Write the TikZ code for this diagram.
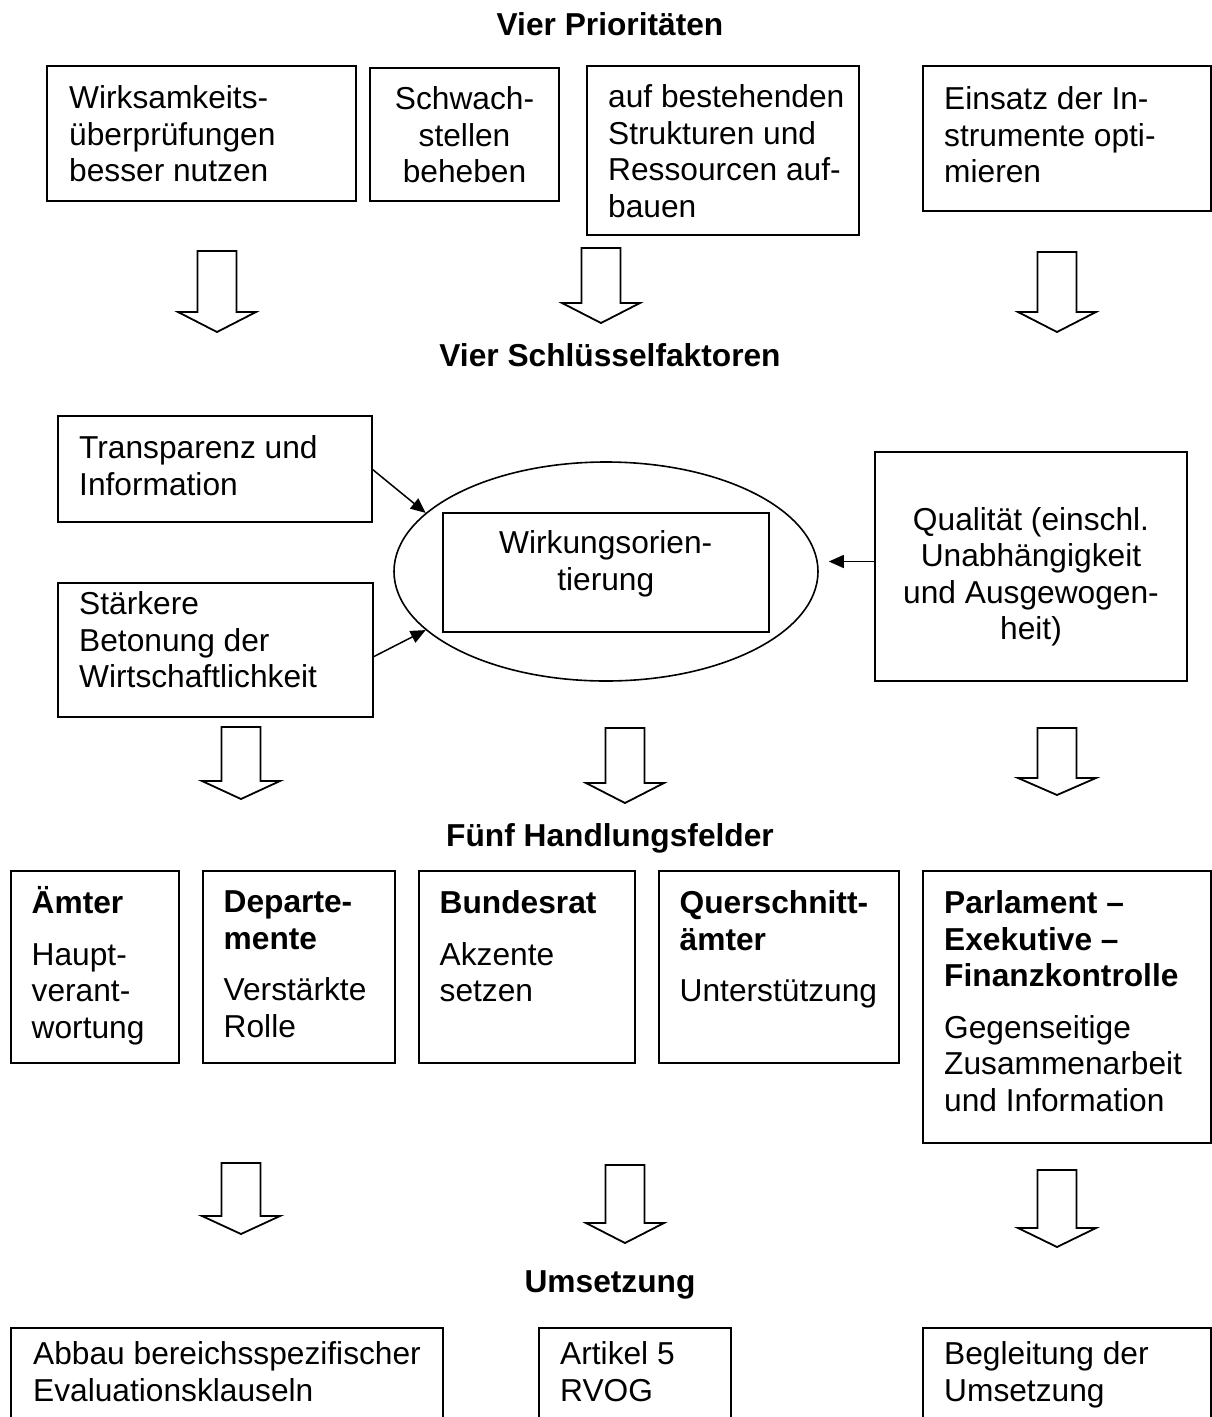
\documentclass[tikz,border=0pt]{standalone}
\usepackage{fontspec}
\setmainfont{Liberation Sans}
\usetikzlibrary{shapes.geometric,arrows.meta}
\def\diafont{\fontsize{31.7}{36.5}\selectfont}
\def\shaft{19.5}
\def\head{39}
\newcommand{\blockdown}[4]{%
  \draw[blockpfeil] (#1-\shaft,#2) -- (#1+\shaft,#2) -- (#1+\shaft,#3) -- (#1+\head,#3)
    -- (#1,#4) -- (#1-\head,#3) -- (#1-\shaft,#3) -- cycle;}
\tikzset{
  box/.style={draw, line width=2pt, inner sep=0pt, outer sep=0pt, anchor=north west},
  txt/.style={font=\diafont, align=left, inner sep=0pt, anchor=north west, execute at begin node=\strut},
  ctxt/.style={font=\diafont, align=center, inner sep=0pt, anchor=north, execute at begin node=\strut},
  titel/.style={font=\diafont\bfseries, inner sep=0pt, anchor=base},
  pfeil/.style={line width=1.5pt, -{Triangle[length=15pt,width=13pt]}},
  blockpfeil/.style={line width=1.8pt, fill=white, line join=miter},
}

\begin{document}
\begin{tikzpicture}[x=1pt,y=-1pt]
    \useasboundingbox (0,0) rectangle (1212,1417);
    \clip (0,0) rectangle (1212,1417);

    \node[titel] (prio) at (610,35) {Vier Prioritäten};
    \node[box, minimum width=309pt, minimum height=135pt] (p1) at (47,66) {};
    \node[box, minimum width=189pt, minimum height=133pt] (p2) at (370,68) {};
    \node[box, minimum width=272pt, minimum height=169pt] (p3) at (587,66) {};
    \node[box, minimum width=288pt, minimum height=145pt] (p4) at (923,66) {};
    \node[txt] (p1t) at ([shift={(22pt,-19.5pt)}]p1.north west) {Wirksamkeits-\\überprüfungen\\besser nutzen};
    \node[ctxt] (p2t) at ([shift={(0pt,-18.5pt)}]p2.north) {Schwach-\\stellen\\beheben};
    \node[txt] (p3t) at ([shift={(21pt,-18.5pt)}]p3.north west) {auf bestehenden\\Strukturen und\\Ressourcen auf-\\bauen};
    \node[txt] (p4t) at ([shift={(21pt,-20.5pt)}]p4.north west) {Einsatz der In-\\strumente opti-\\mieren};

    \blockdown{217}{251}{312}{332}
    \blockdown{601}{248}{303}{323}
    \blockdown{1057}{252}{312}{332}

    \node[titel] (schluessel) at (610,366) {Vier Schlüsselfaktoren};
    \node[box, minimum width=314pt, minimum height=106pt] (b1) at (58,416) {};
    \node[box, minimum width=315pt, minimum height=134pt] (b2) at (58,583) {};
    \node[box, minimum width=312pt, minimum height=229pt] (b3) at (875,452) {};
    \node[draw, ellipse, line width=1.6pt, inner sep=0pt, minimum width=424pt, minimum height=219pt] (wirk) at (606,571.5) {};
    \node[box, minimum width=326.5pt, minimum height=119pt] (wirkbox) at (442.5,513) {};
    \node[txt] (b1t) at ([shift={(21pt,-19.5pt)}]b1.north west) {Transparenz und\\Information};
    \node[txt] (b2t) at ([shift={(21pt,-8.5pt)}]b2.north west) {Stärkere\\Betonung der\\Wirtschaftlichkeit};
    \node[ctxt] (b3t) at ([shift={(0pt,-55pt)}]b3.north) {Qualität (einschl.\\Unabhängigkeit\\und Ausgewogen-\\heit)};
    \node[ctxt] (wirkt) at ([shift={(0pt,-17.5pt)}]wirkbox.north) {Wirkungsorien-\\tierung};
    \draw[pfeil] (b1.east) -- (wirk.162);
    \draw[pfeil] ([yshift=-7pt]b2.east) -- (wirk.198);
    \draw[pfeil, shorten >=10pt] ([yshift=5pt]b3.west) -- ([yshift=5pt]b3.west -| wirk.east);

    \blockdown{241}{727}{781}{799}
    \blockdown{625}{728}{783}{803}
    \blockdown{1057}{728}{778}{795}

    \node[titel] (felder) at (610,846) {Fünf Handlungsfelder};
    \node[box, minimum width=168.5pt, minimum height=192pt] (c1) at (10.5,871) {};
    \node[box, minimum width=192.5pt, minimum height=192pt] (c2) at (202.5,871) {};
    \node[box, minimum width=216.5pt, minimum height=192pt] (c3) at (418.5,871) {};
    \node[box, minimum width=240.5pt, minimum height=192pt] (c4) at (658.5,871) {};
    \node[box, minimum width=288pt, minimum height=272pt] (c5) at (923,871) {};
    \node[txt] (c1t) at ([shift={(21pt,-15.5pt)}]c1.north west) {\textbf{Ämter}\\[15pt]Haupt-\\verant-\\wortung};
    \node[txt] (c2t) at ([shift={(21pt,-19.5pt)}]c2.north west) {\textbf{Departe-}\\\textbf{mente}\\[15pt]Verstärkte\\Rolle};
    \node[txt] (c3t) at ([shift={(21pt,-19.5pt)}]c3.north west) {\textbf{Bundesrat}\\[15pt]Akzente\\setzen};
    \node[txt] (c4t) at ([shift={(21pt,-19.5pt)}]c4.north west) {\textbf{Querschnitt-}\\\textbf{ämter}\\[15pt]Unterstützung};
    \node[txt] (c5t) at ([shift={(21pt,-19.5pt)}]c5.north west) {\textbf{Parlament –}\\\textbf{Exekutive –}\\\textbf{Finanzkontrolle}\\[15pt]Gegenseitige\\Zusammenarbeit\\und Information};

    \blockdown{241}{1163}{1216}{1234}
    \blockdown{625}{1165}{1223}{1243}
    \blockdown{1057}{1170}{1228}{1247}

    \node[titel] (umsetzung) at (610,1292) {Umsetzung};
    \node[box, minimum width=432pt, minimum height=120pt] (d1) at (11,1328) {};
    \node[box, minimum width=192pt, minimum height=120pt] (d2) at (539,1328) {};
    \node[box, minimum width=288pt, minimum height=120pt] (d3) at (923,1328) {};
    \node[txt] (d1t) at ([shift={(22pt,-13.5pt)}]d1.north west) {Abbau bereichsspezifischer\\Evaluationsklauseln};
    \node[txt] (d2t) at ([shift={(21pt,-13.5pt)}]d2.north west) {Artikel 5\\RVOG};
    \node[txt] (d3t) at ([shift={(21pt,-13.5pt)}]d3.north west) {Begleitung der\\Umsetzung};
\end{tikzpicture}
\end{document}
